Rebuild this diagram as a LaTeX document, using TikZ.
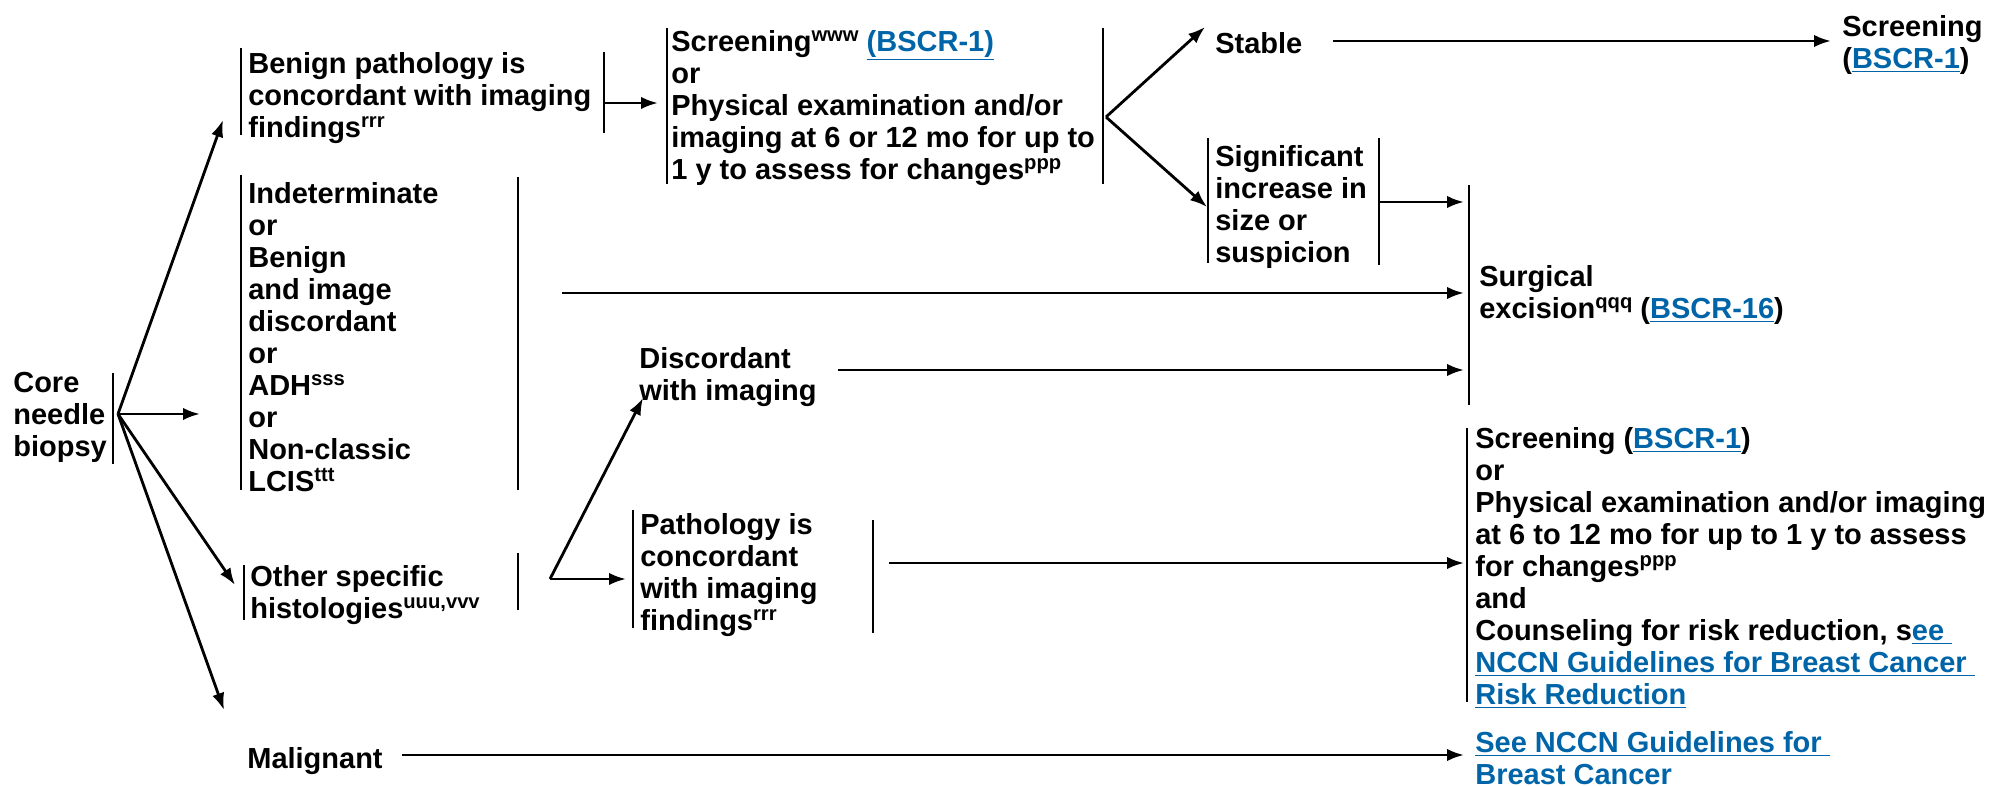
\documentclass[tikz,border=0pt]{standalone}
\usepackage{fontspec}
\setmainfont{Liberation Sans}
\usepackage{tikz}
\usetikzlibrary{arrows.meta}
\definecolor{nccnblue}{RGB}{0,101,168}
\newcommand{\lnk}[1]{\textcolor{nccnblue}{\underline{#1}}}
\newcommand{\sups}[1]{\raisebox{5.6pt}{\fontsize{11.5}{12}\selectfont #1}}

\begin{document}
\begin{tikzpicture}[x=0.02cm, y=-0.02cm,
	txt/.style={anchor=north west, inner sep=0pt, align=left, font=\bfseries\fontsize{16.5}{18.2}\selectfont},
	bar/.style={line width=1.4pt},
	arr/.style={line width=1.6pt, -{Latex[length=0.34cm, width=0.25cm]}}]

	\useasboundingbox (0,0) rectangle (1994,786);

	% Core needle biopsy
	\node[txt] (core) at (13,372) {Core\\needle\\biopsy};
	\draw[bar] (113,373) -- (113,464);
	\coordinate (coreout) at (118,414);

	% Benign, concordant
	\node[txt] (benign) at (248,52) {Benign pathology is\\concordant with imaging\\findings\sups{rrr}};
	\draw[bar] (241,48) -- (241,135);
	\draw[bar] (604,52) -- (604,133);
	\coordinate (benignin) at (223,120);
	\coordinate (benignout) at (604,103);

	% Indeterminate
	\node[txt] (indet) at (248,182) {Indeterminate\\or\\Benign\\and image\\discordant\\or\\ADH\sups{sss}\\or\\Non-classic\\LCIS\sups{ttt}};
	\draw[bar] (241,175) -- (241,490);
	\draw[bar] (518,177) -- (518,490);
	\coordinate (indetin) at (200,414);
	\coordinate (indetout) at (562,293);

	% Other specific histologies
	\node[txt] (other) at (250,565) {Other specific\\histologies\sups{uuu,vvv}};
	\draw[bar] (244,565) -- (244,620);
	\draw[bar] (518,553) -- (518,610);
	\coordinate (otherin) at (235,585);
	\coordinate (otherout) at (550,579);

	% Malignant
	\node[txt] (malig) at (247,747) {Malignant};
	\coordinate (maligin) at (224,710);
	\coordinate (maligout) at (402,755);

	% Screening or exam
	\node[txt] (scrA) at (671,30) {Screening\sups{www} \lnk{(BSCR-1)}\\or\\Physical examination and/or\\imaging at 6 or 12 mo for up to\\1 y to assess for changes\sups{ppp}};
	\draw[bar] (667,28) -- (667,184);
	\draw[bar] (1103,28) -- (1103,184);
	\coordinate (scrAin) at (658,103);
	\coordinate (scrAout) at (1106,117);

	% Discordant / Pathology concordant
	\node[txt] (disc) at (639,347) {Discordant\\with imaging};
	\coordinate (discin) at (643,398);
	\coordinate (discout) at (838,370);
	\node[txt] (path) at (640,513) {Pathology is\\concordant\\with imaging\\findings\sups{rrr}};
	\draw[bar] (633,510) -- (633,628);
	\draw[bar] (873,520) -- (873,633);
	\coordinate (pathin) at (626,579);
	\coordinate (pathout) at (889,563);

	% Stable / Significant increase
	\node[txt] (stable) at (1215,32) {Stable};
	\coordinate (stablein) at (1205,27);
	\coordinate (stableout) at (1333,41);
	\node[txt] (signif) at (1215,145) {Significant\\increase in\\size or\\suspicion};
	\draw[bar] (1208,138) -- (1208,263);
	\draw[bar] (1379,138) -- (1379,265);
	\coordinate (signifin) at (1207,207);
	\coordinate (signifout) at (1379,202);

	% Right column
	\node[txt] (scrR) at (1842,15) {Screening\\(\lnk{BSCR-1})};
	\coordinate (scrRin) at (1831,41);
	\node[txt] (surg) at (1479,265) {Surgical\\excision\sups{qqq} (\lnk{BSCR-16})};
	\draw[bar] (1469,185) -- (1469,405);
	\node[txt] (scrB) at (1475,427) {Screening (\lnk{BSCR-1})\\or\\Physical examination and/or imaging\\at 6 to 12 mo for up to 1 y to assess\\for changes\sups{ppp}\\and\\Counseling for risk reduction, s\lnk{ee\ }\\\lnk{NCCN Guidelines for Breast Cancer\ }\\\lnk{Risk Reduction}};
	\draw[bar] (1467,428) -- (1467,702);
	\node[txt] (nccn) at (1475,731) {\lnk{See NCCN Guidelines for\ }\\\lnk{Breast Cancer}};

	% connectors
	\draw[arr] (coreout) -- (benignin);
	\draw[arr] (coreout) -- (indetin);
	\draw[arr] (coreout) -- (otherin);
	\draw[arr] (coreout) -- (maligin);
	\draw[arr] (benignout) -- (scrAin);
	\draw[arr] (scrAout) -- (stablein);
	\draw[arr] (scrAout) -- (signifin);
	\draw[arr] (stableout) -- (scrRin);
	\draw[arr] (signifout) -- (1464,202);
	\draw[arr] (indetout) -- (1464,293);
	\draw[arr] (otherout) -- (discin);
	\draw[arr] (otherout) -- (pathin);
	\draw[arr] (discout) -- (1464,370);
	\draw[arr] (pathout) -- (1464,563);
	\draw[arr] (maligout) -- (1464,755);
\end{tikzpicture}
\end{document}
